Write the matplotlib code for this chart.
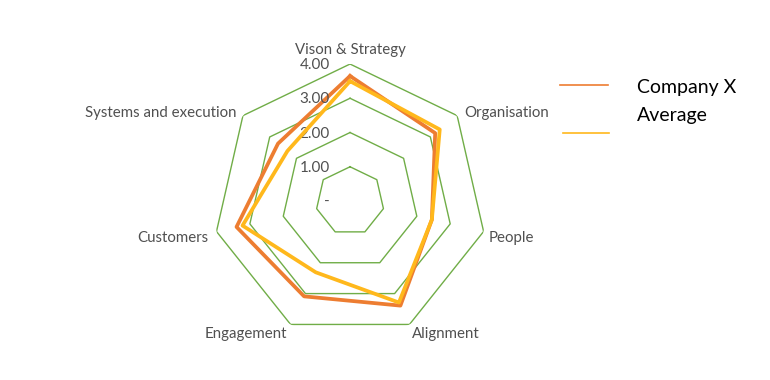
import numpy as np
import matplotlib.pyplot as plt
from matplotlib.lines import Line2D

# categories clockwise from the top
categories = ["Vison & Strategy", "Organisation", "People", "Alignment",
              "Engagement", "Customers", "Systems and execution"]
company_x = [3.65, 3.18, 2.45, 3.39, 3.09, 3.40, 2.69]
average = [3.50, 3.35, 2.45, 3.29, 2.31, 3.22, 2.34]
levels = [1, 2, 3, 4]
level_labels = ["-", "1.00", "2.00", "3.00", "4.00"]

orange = "#ED7D31"
gold = "#FFB81C"
green = "#70AD47"
grey = "#505050"

plt.rcParams['font.family'] = ['Lato', 'DejaVu Sans']

fig = plt.figure(figsize=(7.7, 3.8), dpi=100)
ax = fig.add_axes([0.2766, 0.1105, 0.356, 0.721], projection="polar")
ax.set_theta_offset(np.pi / 2)
ax.set_theta_direction(-1)
ax.set_ylim(0, 4)
ax.axis("off")

n = len(categories)
theta = np.linspace(0, 2 * np.pi, n, endpoint=False)
theta_c = np.append(theta, theta[0])

# heptagon grid
for lv in levels:
    ax.plot(theta_c, [lv] * (n + 1), color=green, lw=1.0, zorder=1)

ax.plot(theta_c, company_x + company_x[:1], color=orange, lw=2.7, zorder=3)
ax.plot(theta_c, average + average[:1], color=gold, lw=2.7, zorder=4)

# level labels along the top axis
for r, lab in enumerate(level_labels):
    ax.annotate(lab, xy=(0, r), xytext=(-20, -1), textcoords="offset pixels",
                ha="right", va="center", fontsize=11, color=grey)

# category labels
offsets = [((0, 14), "center"), ((7, 3), "left"), ((5, -6.5), "left"),
           ((2.5, -10), "left"), ((-3.5, -10), "right"), ((-8, -6.5), "right"),
           ((-6, 2.5), "right")]
for t, lab, (off, ha) in zip(theta, categories, offsets):
    ax.annotate(lab, xy=(t, 4), xytext=off, textcoords="offset pixels",
                ha=ha, va="center", fontsize=10.8, color=grey)

# legend drawn by hand to match the original layout
fig.add_artist(Line2D([560 / 770, 608 / 770], [1 - 85 / 380, 1 - 85 / 380],
                      color=orange, lw=1.2))
fig.add_artist(Line2D([563 / 770, 609 / 770], [1 - 133 / 380, 1 - 133 / 380],
                      color=gold, lw=1.2))
fig.text(637 / 770, 1 - 88 / 380, "Company X", fontsize=14, va="center", color="black")
fig.text(637 / 770, 1 - 116 / 380, "Average", fontsize=14, va="center", color="black")

fig.savefig("out.png", dpi=100)
